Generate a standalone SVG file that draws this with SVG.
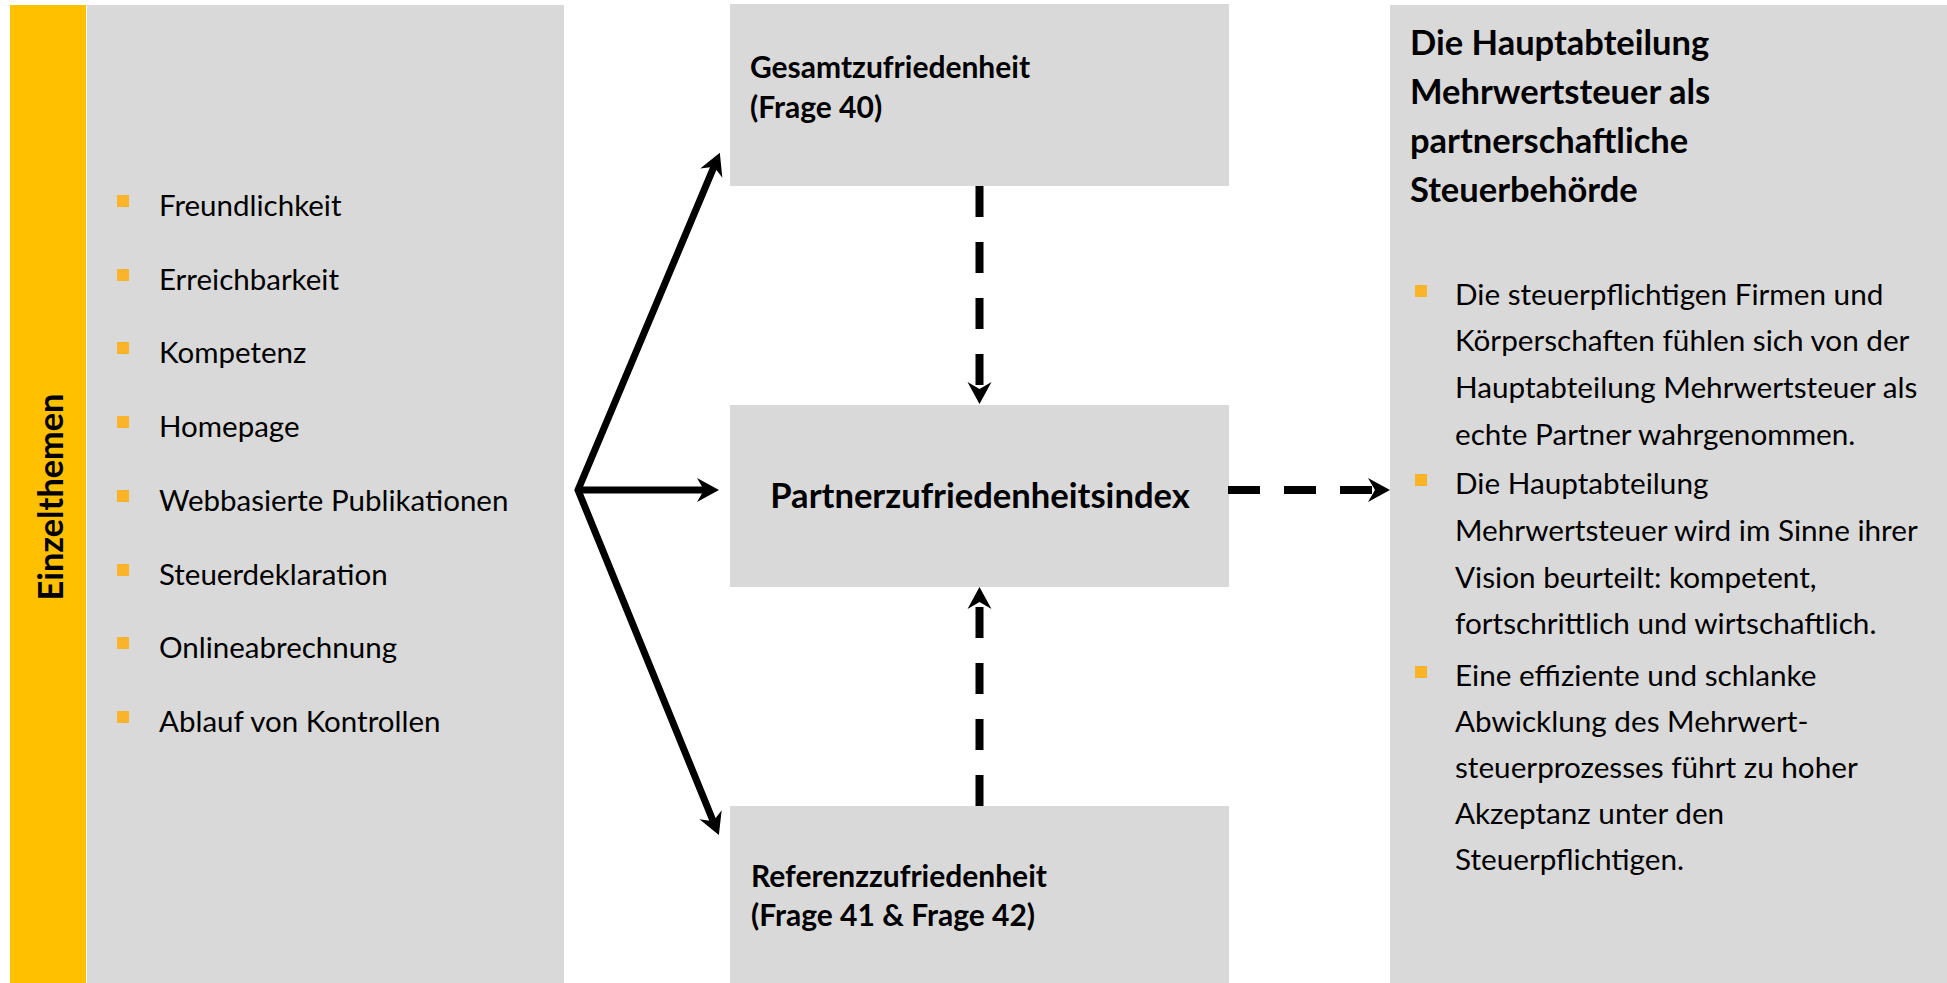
<svg xmlns="http://www.w3.org/2000/svg" width="1947" height="983" viewBox="0 0 1947 983">
<defs>
<style>
.panel{fill:#D9D9D9;}
.bar{fill:#FFC000;}
.bul{fill:#FBB42A;}
.t{font-family:Lato,"Liberation Sans",sans-serif;fill:#000;}
.li{font-size:29.5px;}
.body{font-size:29.7px;}
.lbl{font-size:30px;font-weight:bold;}
.big{font-size:34.6px;font-weight:bold;}
.head{font-size:34.5px;font-weight:bold;}
.side{font-size:34.3px;font-weight:bold;}
.solid{fill:none;stroke:#000;stroke-width:7;stroke-linejoin:miter;stroke-miterlimit:10;}
.dash{fill:none;stroke:#000;stroke-width:8;stroke-linecap:butt;}
</style>
<marker id="ah" markerUnits="userSpaceOnUse" viewBox="-1 -13 24 26" markerWidth="24" markerHeight="26" refX="7" refY="0" orient="auto-start-reverse" overflow="visible">
<path d="M0,-12 L22,0 L0,12 L7,0 Z" fill="#000"/>
</marker>
</defs>
<rect width="1947" height="983" fill="#FFFFFF"/>

<g id="einzelthemen">
<rect class="bar" x="10" y="5" width="76" height="978"/>
<rect class="panel" x="87" y="5" width="477" height="978"/>
<text class="t side" transform="translate(63,497) rotate(-90)" text-anchor="middle">Einzelthemen</text>
<rect class="bul" x="117" y="195" width="12" height="12"/>
<text class="t li" x="159" y="216">Freundlichkeit</text>
<rect class="bul" x="117" y="269" width="12" height="12"/>
<text class="t li" x="159" y="290">Erreichbarkeit</text>
<rect class="bul" x="117" y="342" width="12" height="12"/>
<text class="t li" x="159" y="363">Kompetenz</text>
<rect class="bul" x="117" y="416" width="12" height="12"/>
<text class="t li" x="159" y="437">Homepage</text>
<rect class="bul" x="117" y="490" width="12" height="12"/>
<text class="t li" x="159" y="511">Webbasierte Publikationen</text>
<rect class="bul" x="117" y="564" width="12" height="12"/>
<text class="t li" x="159" y="585">Steuerdeklaration</text>
<rect class="bul" x="117" y="637" width="12" height="12"/>
<text class="t li" x="159" y="658">Onlineabrechnung</text>
<rect class="bul" x="117" y="711" width="12" height="12"/>
<text class="t li" x="159" y="732">Ablauf von Kontrollen</text>
</g>

<g id="gesamtzufriedenheit">
<rect class="panel" x="730" y="4" width="499" height="182"/>
<text class="t lbl" x="750" y="78">Gesamtzufriedenheit</text>
<text class="t lbl" x="750" y="118">(Frage 40)</text>
</g>

<g id="partnerzufriedenheitsindex">
<rect class="panel" x="730" y="405" width="499" height="182"/>
<text class="t big" x="980" y="508" text-anchor="middle">Partnerzufriedenheitsindex</text>
</g>

<g id="referenzzufriedenheit">
<rect class="panel" x="730" y="806" width="499" height="177"/>
<text class="t lbl" x="751" y="887">Referenzzufriedenheit</text>
<text class="t lbl" x="751" y="926">(Frage 41 &amp; Frage 42)</text>
</g>

<g id="hauptabteilung">
<rect class="panel" x="1390" y="5" width="557" height="978"/>
<text class="t head" x="1410" y="55">Die Hauptabteilung</text>
<text class="t head" x="1410" y="104">Mehrwertsteuer als</text>
<text class="t head" x="1410" y="153">partnerschaftliche</text>
<text class="t head" x="1410" y="202">Steuerbehörde</text>
<rect class="bul" x="1415" y="285" width="12" height="12"/>
<text class="t body" x="1455" y="305">Die steuerpflichtigen Firmen und</text>
<text class="t body" x="1455" y="351">Körperschaften fühlen sich von der</text>
<text class="t body" x="1455" y="398">Hauptabteilung Mehrwertsteuer als</text>
<text class="t body" x="1455" y="445">echte Partner wahrgenommen.</text>
<rect class="bul" x="1415" y="474" width="12" height="12"/>
<text class="t body" x="1455" y="494">Die Hauptabteilung</text>
<text class="t body" x="1455" y="541">Mehrwertsteuer wird im Sinne ihrer</text>
<text class="t body" x="1455" y="588">Vision beurteilt: kompetent,</text>
<text class="t body" x="1455" y="634">fortschrittlich und wirtschaftlich.</text>
<rect class="bul" x="1415" y="666" width="12" height="12"/>
<text class="t body" x="1455" y="686">Eine effiziente und schlanke</text>
<text class="t body" x="1455" y="732">Abwicklung des Mehrwert-</text>
<text class="t body" x="1455" y="778">steuerprozesses führt zu hoher</text>
<text class="t body" x="1455" y="824">Akzeptanz unter den</text>
<text class="t body" x="1455" y="870">Steuerpflichtigen.</text>
</g>

<g id="connectors">
<path class="solid" d="M714,166.7 L578,490 L713.2,821.2" marker-start="url(#ah)" marker-end="url(#ah)"/>
<path class="solid" d="M576,490 L704,490" marker-end="url(#ah)"/>
<path class="dash" d="M979.5,186 L979.5,389" stroke-dasharray="31 25" marker-end="url(#ah)"/>
<path class="dash" d="M979.5,806 L979.5,602" stroke-dasharray="31 25" marker-end="url(#ah)"/>
<path class="dash" d="M1228,490 L1375,490" stroke-dasharray="32 24" marker-end="url(#ah)"/>
</g>
</svg>
